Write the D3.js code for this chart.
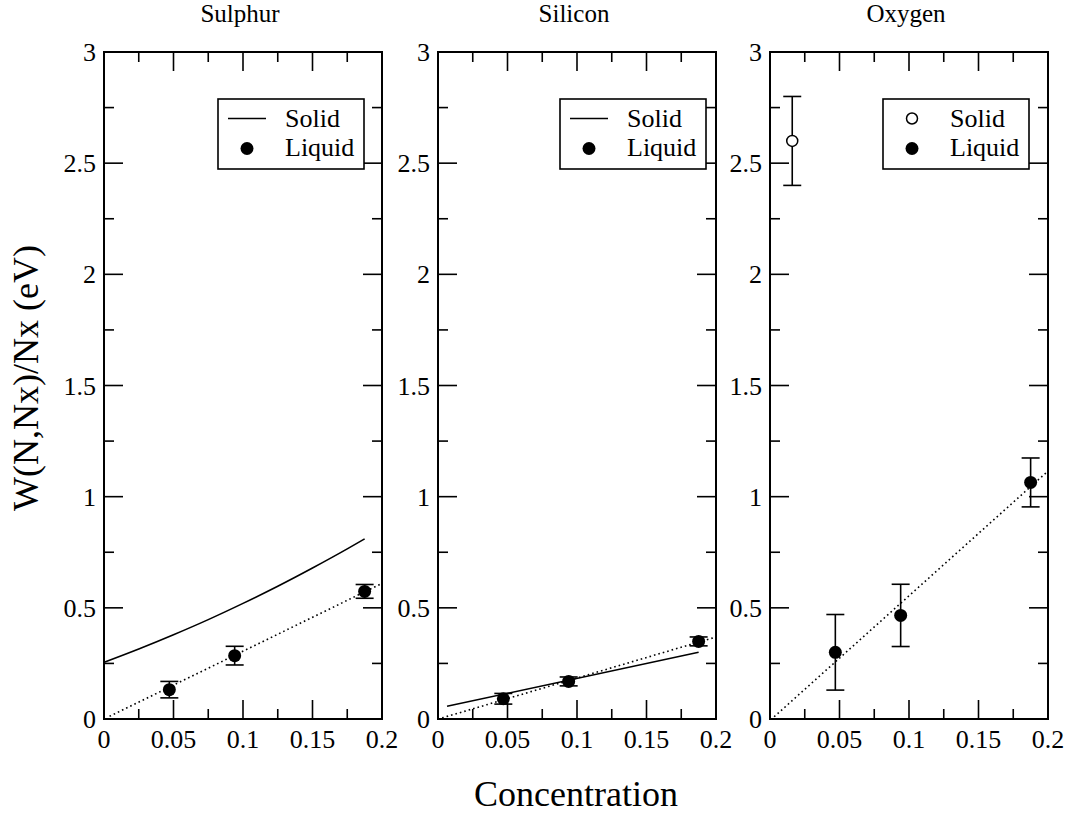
<!DOCTYPE html>
<html>
<head>
<meta charset="utf-8">
<script src="https://cdn.jsdelivr.net/npm/d3@7"></script>
<style>
	body { margin: 0; background: #fff; }
	svg { display: block; }
	.tick-label { font-size: 26px; }
	.panel-title { font-size: 25px; }
	.legend-label { font-size: 26px; }
	.axis-title { font-size: 36px; }
</style>
</head>
<body>
<svg id="chart"></svg>
<script>
// concentrations of the liquid simulations (same for all three elements)
const concentration = [0.047, 0.094, 0.1875];

// Sulphur
const sulphurLiquid = [0.132, 0.285, 0.574];
const sulphurLiquidErr = [0.037, 0.042, 0.031];
const sulphurSolidX = [0, 0.025, 0.05, 0.075, 0.1, 0.125, 0.15, 0.175, 0.1875];
const sulphurSolidY = [0.255, 0.315, 0.379, 0.447, 0.52, 0.597, 0.679, 0.765, 0.81];
const sulphurFitX = [0.004, 0.2];
const sulphurFitY = [0.012, 0.61];

// Silicon
const siliconLiquid = [0.091, 0.169, 0.349];
const siliconLiquidErr = [0.024, 0.02, 0.02];
const siliconSolidX = [0.0065, 0.1875];
const siliconSolidY = [0.057, 0.30];
const siliconFitX = [0.003, 0.2];
const siliconFitY = [0.005, 0.369];

// Oxygen
const oxygenLiquid = [0.30, 0.466, 1.064];
const oxygenLiquidErr = [0.17, 0.14, 0.11];
const oxygenSolidX = [0.016];
const oxygenSolidY = [2.6];
const oxygenSolidErr = [0.2];
const oxygenFitX = [0.003, 0.2];
const oxygenFitY = [0.01, 1.115];

const xTicks = [0, 0.05, 0.1, 0.15, 0.2];
const xTickLabels = ['0', '0.05', '0.1', '0.15', '0.2'];
const yTicks = [0, 0.5, 1, 1.5, 2, 2.5, 3];
const yTickLabels = ['0', '0.5', '1', '1.5', '2', '2.5', '3'];

const FONT = "'Liberation Serif', 'DejaVu Serif', 'Times New Roman', serif";

const svg = d3.select('#chart')
	.attr('width', 1068)
	.attr('height', 814)
	.attr('font-family', FONT)
	.style('font-family', FONT);

class Panel {

	constructor(_config) {
		this.config = {
			left: _config.left,
			top: 52,
			width: 278,
			height: 667,
			title: _config.title
		};
		this.initVis();
	}

	initVis() {
		let vis = this;
		const c = vis.config;

		vis.xScale = d3.scaleLinear().domain([0, 0.2]).range([c.left, c.left + c.width]);
		vis.yScale = d3.scaleLinear().domain([0, 3]).range([c.top + c.height, c.top]);

		vis.g = svg.append('g');

		// title
		vis.g.append('text')
			.attr('class', 'panel-title')
			.attr('text-anchor', 'middle')
			.attr('x', c.left + c.width / 2 - 3)
			.attr('y', 22)
			.text(c.title);

		// inward ticks on all four sides
		const xMajor = d3.range(0, 9).map(i => i * 0.025);
		const yMinor = d3.range(0, 13).map(i => i * 0.25);
		const ticks = vis.g.append('g').attr('stroke', '#000').attr('stroke-width', 1.6);

		xMajor.forEach((v, i) => {
			const len = i % 2 === 0 ? 19 : 10;
			const x = vis.xScale(v);
			ticks.append('line').attr('x1', x).attr('x2', x)
				.attr('y1', vis.yScale(0)).attr('y2', vis.yScale(0) - len);
			ticks.append('line').attr('x1', x).attr('x2', x)
				.attr('y1', vis.yScale(3)).attr('y2', vis.yScale(3) + len);
		});
		yMinor.forEach((v, i) => {
			const len = i % 2 === 0 ? 19 : 10;
			const y = vis.yScale(v);
			ticks.append('line').attr('x1', vis.xScale(0)).attr('x2', vis.xScale(0) + len)
				.attr('y1', y).attr('y2', y);
			ticks.append('line').attr('x1', vis.xScale(0.2)).attr('x2', vis.xScale(0.2) - len)
				.attr('y1', y).attr('y2', y);
		});

		// frame
		vis.g.append('rect')
			.attr('x', c.left)
			.attr('y', c.top)
			.attr('width', c.width)
			.attr('height', c.height)
			.attr('fill', 'none')
			.attr('stroke', '#000')
			.attr('stroke-width', 2);

		// tick labels
		vis.g.selectAll('.x-label')
			.data(xTicks)
			.join('text')
			.attr('class', 'tick-label x-label')
			.attr('text-anchor', 'middle')
			.attr('x', d => vis.xScale(d))
			.attr('y', 748)
			.text((d, i) => xTickLabels[i]);

		vis.g.selectAll('.y-label')
			.data(yTicks)
			.join('text')
			.attr('class', 'tick-label y-label')
			.attr('text-anchor', 'end')
			.attr('x', c.left - 8)
			.attr('y', d => vis.yScale(d) + 9)
			.text((d, i) => yTickLabels[i]);
	}

	line(xs, ys, dotted) {
		let vis = this;
		const pts = xs.map((x, i) => [x, ys[i]]);
		const gen = d3.line()
			.x(d => vis.xScale(d[0]))
			.y(d => vis.yScale(d[1]))
			.curve(d3.curveMonotoneX);
		vis.g.append('path')
			.attr('d', gen(pts))
			.attr('fill', 'none')
			.attr('stroke', '#000')
			.attr('stroke-width', 1.6)
			.attr('stroke-dasharray', dotted ? '1.6,3' : null);
	}

	points(xs, ys, errs, open) {
		let vis = this;
		const data = xs.map((x, i) => ({ x: x, y: ys[i], e: errs[i] }));
		const eb = vis.g.append('g').attr('stroke', '#000').attr('stroke-width', 1.6);
		data.forEach(d => {
			const cx = vis.xScale(d.x);
			eb.append('line').attr('x1', cx).attr('x2', cx)
				.attr('y1', vis.yScale(d.y - d.e)).attr('y2', vis.yScale(d.y + d.e));
			[d.y - d.e, d.y + d.e].forEach(v => {
				eb.append('line').attr('x1', cx - 9).attr('x2', cx + 9)
					.attr('y1', vis.yScale(v)).attr('y2', vis.yScale(v));
			});
		});
		vis.g.selectAll(null)
			.data(data)
			.join('circle')
			.attr('cx', d => vis.xScale(d.x))
			.attr('cy', d => vis.yScale(d.y))
			.attr('r', open ? 5.5 : 6.5)
			.attr('fill', open ? '#fff' : '#000')
			.attr('stroke', '#000')
			.attr('stroke-width', open ? 1.5 : 0);
	}

	legend(boxLeft, solidOpen) {
		let vis = this;
		const lg = vis.g.append('g').attr('transform', `translate(${boxLeft},99)`);
		lg.append('rect')
			.attr('width', 146)
			.attr('height', 70)
			.attr('fill', '#fff')
			.attr('stroke', '#000')
			.attr('stroke-width', 1.6);
		if (solidOpen) {
			lg.append('circle').attr('cx', 29).attr('cy', 19.5).attr('r', 5.5)
				.attr('fill', '#fff').attr('stroke', '#000').attr('stroke-width', 1.5);
		} else {
			lg.append('line').attr('x1', 10).attr('x2', 48).attr('y1', 19.5).attr('y2', 19.5)
				.attr('stroke', '#000').attr('stroke-width', 1.6);
		}
		lg.append('circle').attr('cx', 29).attr('cy', 49.5).attr('r', 6.5).attr('fill', '#000');
		lg.append('text').attr('class', 'legend-label').attr('x', 67).attr('y', 28).text('Solid');
		lg.append('text').attr('class', 'legend-label').attr('x', 67).attr('y', 57).text('Liquid');
	}
}

const sulphur = new Panel({ left: 104, title: 'Sulphur' });
sulphur.legend(218, false);
sulphur.line(sulphurSolidX, sulphurSolidY, false);
sulphur.line(sulphurFitX, sulphurFitY, true);
sulphur.points(concentration, sulphurLiquid, sulphurLiquidErr, false);

const silicon = new Panel({ left: 438, title: 'Silicon' });
silicon.legend(560, false);
silicon.line(siliconSolidX, siliconSolidY, false);
silicon.line(siliconFitX, siliconFitY, true);
silicon.points(concentration, siliconLiquid, siliconLiquidErr, false);

const oxygen = new Panel({ left: 770, title: 'Oxygen' });
oxygen.legend(883, true);
oxygen.line(oxygenFitX, oxygenFitY, true);
oxygen.points(oxygenSolidX, oxygenSolidY, oxygenSolidErr, true);
oxygen.points(concentration, oxygenLiquid, oxygenLiquidErr, false);

// shared axis titles
svg.append('text')
	.attr('class', 'axis-title')
	.attr('text-anchor', 'middle')
	.attr('transform', 'translate(38,378) rotate(-90)')
	.text('W(N,Nx)/Nx (eV)');

svg.append('text')
	.attr('class', 'axis-title')
	.attr('text-anchor', 'middle')
	.attr('x', 576)
	.attr('y', 806)
	.text('Concentration');
</script>
</body>
</html>
